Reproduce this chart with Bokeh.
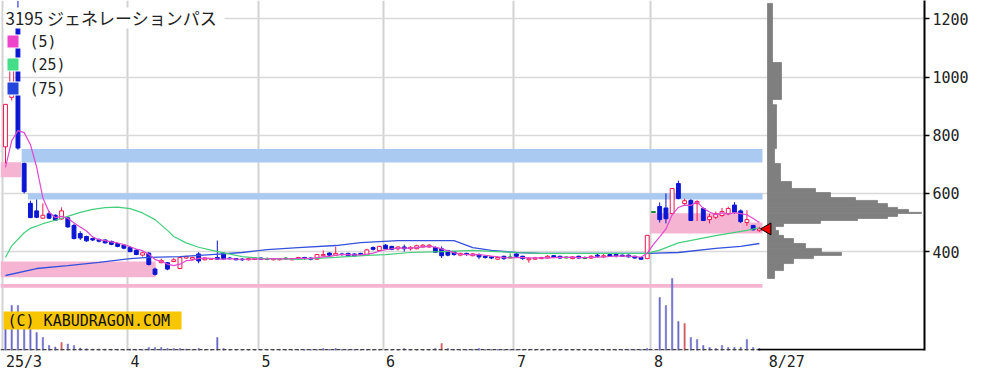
import math
import numpy as np
from bokeh.plotting import figure
from bokeh.models import Range1d, FixedTicker, Label, BoxAnnotation
from bokeh.embed import file_html
from bokeh.resources import INLINE

# ---------------- data ----------------
opens = [760, 930, 1230, 703, 566, 540, 515, 530, 525, 512,
         516, 490, 462, 452, 445, 442, 440, 435, 428, 422,
         414, 405, 388, 395, 340, 362, 362, 366, 342, 378,
         374, 392, 372, 374, 380, 395, 378, 376, 374, 372,
         373, 378, 375, 372, 372, 376, 372, 374, 380, 378,
         374, 386, 395, 388, 392, 394, 392, 394, 388, 414,
         404, 422, 418, 410, 416, 410, 410, 416, 416, 414,
         410, 404, 400, 388, 394, 386, 390, 384, 382, 374,
         384, 380, 392, 384, 372, 374, 376, 378, 386, 384,
         380, 376, 384, 378, 378, 388, 382, 390, 390, 388,
         388, 384, 380, 376, 536, 555, 550, 531, 634, 565,
         576, 565, 548, 510, 518, 524, 530, 560, 540, 500,
         490, 472]
highs = [906, 1056, 1262, 706, 575, 579, 566, 540, 528, 552,
         520, 495, 470, 455, 448, 445, 442, 438, 430, 425,
         418, 408, 400, 398, 345, 376, 364, 378, 382, 386,
         382, 398, 380, 378, 438, 398, 382, 378, 378, 380,
         380, 380, 380, 378, 377, 382, 378, 382, 382, 380,
         392, 404, 398, 417, 396, 396, 394, 396, 410, 418,
         420, 426, 420, 418, 424, 418, 424, 426, 426, 418,
         418, 406, 402, 396, 396, 395, 394, 386, 384, 384,
         386, 394, 394, 386, 380, 382, 382, 388, 388, 386,
         384, 384, 386, 384, 388, 392, 392, 392, 396, 390,
         390, 386, 382, 456, 536, 569, 600, 617, 644, 582,
         580, 577, 552, 530, 538, 550, 555, 570, 545, 542,
         492, 485]
lows = [703, 919, 750, 600, 515, 515, 512, 512, 505, 510,
        482, 442, 440, 434, 436, 432, 428, 422, 415, 408,
        398, 388, 383, 352, 318, 360, 336, 364, 340, 375,
        370, 360, 370, 372, 372, 372, 372, 370, 368, 370,
        371, 372, 370, 370, 370, 374, 370, 372, 372, 370,
        372, 384, 384, 386, 386, 384, 383, 388, 386, 404,
        402, 408, 405, 404, 400, 404, 408, 414, 414, 396,
        378, 384, 386, 384, 386, 384, 374, 376, 374, 372,
        372, 378, 380, 372, 362, 372, 374, 376, 378, 376,
        376, 374, 376, 374, 376, 380, 378, 382, 380, 382,
        380, 376, 372, 374, 536, 500, 497, 528, 580, 560,
        505, 505, 505, 497, 512, 520, 525, 530, 498, 488,
        472, 468]
closes = [906, 1056, 756, 606, 517, 518, 525, 515, 508, 540,
          485, 445, 447, 437, 440, 436, 430, 425, 418, 412,
          400, 390, 396, 356, 322, 370, 340, 372, 380, 383,
          380, 368, 378, 376, 374, 375, 376, 372, 372, 376,
          378, 374, 375, 376, 375, 376, 376, 380, 376, 374,
          390, 390, 388, 394, 390, 386, 385, 390, 406, 408,
          418, 410, 408, 416, 410, 415, 420, 422, 422, 398,
          386, 388, 390, 394, 390, 392, 382, 380, 378, 380,
          376, 380, 384, 376, 376, 378, 380, 384, 380, 378,
          380, 382, 378, 378, 384, 384, 386, 384, 386, 384,
          382, 378, 374, 456, 536, 510, 513, 617, 583, 575,
          507, 572, 507, 520, 530, 538, 548, 535, 503, 510,
          475, 478]
pre_closes = [600, 580, 641, 721]          # four closes before the first day (for the 5-day MA)

ma25_day = [0, 1, 3, 4, 6, 8, 10, 12, 14, 16, 18, 20, 22, 24, 26, 27, 29, 31, 33, 35,
            38, 41, 47, 53, 58, 61, 65, 70, 75, 78, 82, 86, 93, 101, 103, 105, 108,
            114, 119, 121]
ma25_val = [380, 420, 465, 480, 496, 508, 521, 535, 545, 551, 553, 548, 533, 510, 473,
            452, 430, 415, 405, 396, 383, 377, 373, 380, 387, 390, 397, 400, 404, 401,
            397, 394, 394, 394, 394, 405, 430, 455, 473, 482]
ma75_day = [0, 5, 10, 15, 20, 23, 28, 33, 38, 42, 47, 53, 57, 63, 72, 75, 78, 82, 86,
            103, 108, 114, 118, 121]
ma75_val = [318, 342, 352, 363, 376, 380, 383, 390, 397, 407, 414, 421, 431, 438, 438,
            414, 404, 397, 394, 394, 397, 411, 418, 428]

volume = [1520, 1800, 1800, 1440, 1200, 720, 520, 200, 140, 320,
          260, 200, 100, 72, 60, 60, 60, 48, 48, 40,
          60, 40, 40, 120, 120, 120, 80, 80, 80, 60,
          40, 80, 40, 40, 520, 80, 40, 40, 40, 40,
          40, 40, 40, 40, 40, 40, 40, 40, 40, 40,
          40, 80, 40, 80, 40, 40, 40, 40, 40, 40,
          40, 40, 40, 40, 80, 40, 40, 40, 40, 80,
          280, 80, 40, 40, 40, 40, 80, 40, 40, 40,
          40, 40, 40, 40, 40, 40, 40, 40, 40, 40,
          40, 40, 40, 40, 40, 40, 40, 40, 40, 40,
          40, 40, 40, 80, 0, 2120, 1800, 2880, 1160, 1080,
          520, 440, 200, 120, 80, 200, 120, 120, 120, 440,
          120, 80]
vol_red_days = [9, 70, 109]

month_first_day = [0, 20, 41, 61, 82, 104]
month_labels = ["25/3", "4", "5", "6", "7", "8"]
last_label = "8/27"
price_ticks = [400, 600, 800, 1000, 1200]

# unfilled price gaps: low, high, first day, last day, kind
gap_lo = [656, 706, 579, 312, 276, 462, 462]
gap_hi = [707, 753, 601, 366, 289, 532, 500]
gap_from = [-0.8, 2.6, 3.6, -0.8, -0.8, 103.5, 118.0]
gap_to = [2.5, 121.5, 121.5, 24.1, 121.5, 118.0, 121.5]
gap_kind = ["up", "down", "down", "up", "up", "up", "up"]

# volume-at-price profile
prof_lo = [308, 335, 359, 376, 387, 397, 411, 428, 445, 456, 473, 486, 497, 507, 514, 521,
           531, 535, 545, 552, 565, 576, 586, 603, 617, 641, 703, 754, 905, 923, 1050]
prof_hi = [335, 359, 376, 387, 397, 411, 428, 445, 456, 473, 486, 497, 507, 514, 521, 531,
           535, 545, 552, 565, 576, 586, 603, 617, 641, 703, 754, 905, 923, 1050, 1253]
prof_vol = [140, 320, 520, 920, 1480, 1080, 760, 520, 320, 220, 160, 320, 1060, 1800, 2400,
            2600, 3080, 2820, 2600, 2400, 2200, 1760, 1260, 960, 480, 260, 140, 180, 100, 280, 100]

# ---------------- layout ----------------
W, H = 985, 385
FW, FH = 924, 350
X0, X1 = -0.8, 147.5
Y0, Y1 = 60.3, 1262.9
PX_PER_DAY = FW / (X1 - X0)
CHAR_W = 9.03     # DejaVu Sans Mono at 15px


def px_x(px):
    return X0 + px / PX_PER_DAY


def px_y(py):
    return Y1 - py * (Y1 - Y0) / FH


p = figure(width=W, height=H, x_range=Range1d(X0, X1), y_range=Range1d(Y0, Y1),
           output_backend="svg", toolbar_location=None, y_axis_location="right",
           min_border_left=0, min_border_top=0, min_border_right=W - FW,
           min_border_bottom=H - FH, outline_line_color=None,
           background_fill_color="white", border_fill_color="white")

ax = p.yaxis[0]
ax.ticker = FixedTicker(ticks=price_ticks)
ax.major_label_text_font = "DejaVu Sans Mono"
ax.major_label_text_font_size = "15px"
ax.major_label_text_color = "#222222"
ax.axis_line_color = "black"
ax.axis_line_width = 2
ax.major_tick_in = 0
ax.major_tick_out = 5
ax.major_tick_line_width = 1.5
ax.minor_tick_line_color = None
ax.major_label_standoff = 3

# bottom date labels: left-aligned just right of each month line (tick = label centre)
lab_left = [d + 0.08 for d in month_first_day] + [len(closes) + 0.5]
lab_text = month_labels + [last_label]
tick_pos = [round(l + len(t) * CHAR_W / 2 / PX_PER_DAY, 3) for l, t in zip(lab_left, lab_text)]
bx = p.xaxis[0]
bx.ticker = FixedTicker(ticks=tick_pos)
bx.major_label_overrides = {tp: t for tp, t in zip(tick_pos, lab_text)}
bx.axis_line_color = None
bx.major_tick_line_color = None
bx.major_tick_in = 0
bx.major_tick_out = 0
bx.minor_tick_line_color = None
bx.major_label_standoff = 2
bx.major_label_text_font = "DejaVu Sans Mono"
bx.major_label_text_font_size = "15px"
bx.major_label_text_color = "#222222"

p.ygrid.ticker = FixedTicker(ticks=price_ticks)
p.ygrid.grid_line_color = "#d9d9d9"
p.ygrid.grid_line_width = 1.5
p.xgrid.ticker = FixedTicker(ticks=[d - 0.4 for d in month_first_day])
p.xgrid.grid_line_color = "#d2d2d2"
p.xgrid.grid_line_width = 2

# gap zones
gap_col = {"up": "#f6b4d3", "down": "#abcaf2"}
p.quad(left=gap_from, right=gap_to, bottom=gap_lo, top=gap_hi,
       fill_color=[gap_col[k] for k in gap_kind], line_color=None)

# volume
VOL_MAX = FH * 40
p.extra_y_ranges = {"vol": Range1d(0, VOL_MAX)}
days = list(range(len(closes)))
vcol = ["#d06262" if d in vol_red_days else "#6b6bc9" for d in days]
p.vbar(x=days, top=volume, bottom=0, width=0.22, y_range_name="vol",
       fill_color=vcol, line_color=vcol, line_width=0.5)
base_y = px_y(349.2)
p.line([X0, 120.7], [base_y, base_y], line_color="#444444", line_width=1.5, line_dash="4 2")
p.line([120.7, X1], [base_y, base_y], line_color="black", line_width=2)

# candles
up_c, dn_c, dj_c = "#f01850", "#0b16d2", "#138a2e"
kind = []
for o, c in zip(opens, closes):
    kind.append("dj" if o == c else ("up" if c > o else "dn"))
line_cols = [{"up": up_c, "dn": dn_c, "dj": dj_c}[k] for k in kind]
fill_cols = [{"up": "white", "dn": dn_c, "dj": dj_c}[k] for k in kind]
btop = [max(o, c) + (1.5 if o == c else 0) for o, c in zip(opens, closes)]
bbot = [min(o, c) - (1.5 if o == c else 0) for o, c in zip(opens, closes)]
p.segment(x0=days, y0=lows, x1=days, y1=highs, line_color=line_cols, line_width=1)
p.vbar(x=days, top=btop, bottom=bbot, width=0.62, fill_color=fill_cols,
       line_color=line_cols, line_width=1)

# moving averages
ext = np.array(pre_closes + closes, dtype=float)
ma5 = [ext[i:i + 5].mean() for i in range(len(closes))]
p.line(ma75_day, ma75_val, line_color="#3452dc", line_width=1.3)
p.line(ma25_day, ma25_val, line_color="#45cf7c", line_width=1.2)
p.line(days, ma5, line_color="#e048cf", line_width=1.2)

# volume profile
PROF_BASE = 122.3
PROF_K = 20 * PX_PER_DAY
p.quad(left=[PROF_BASE] * len(prof_vol), right=[PROF_BASE + v / PROF_K for v in prof_vol],
       bottom=prof_lo, top=prof_hi, fill_color="#7f7f7f", line_color="#7f7f7f",
       line_width=0.8)

# last price marker
p.scatter(x=[PROF_BASE], y=[closes[-1]], marker="triangle", size=12, angle=math.pi / 2,
          fill_color="#ee0000", line_color="black", line_width=1)

# title / legend
p.add_layout(BoxAnnotation(left=px_x(3), right=px_x(224), top=px_y(7), bottom=px_y(28),
                           fill_color="white", fill_alpha=1, line_alpha=0))
p.add_layout(Label(x=px_x(5), y=px_y(17), text="3195 ジェネレーションパス",
                   text_font="Noto Sans CJK JP", text_font_size="17px",
                   text_baseline="middle", text_align="left", text_color="#222222"))
leg = [("(5)", "#ee44cc", 41), ("(25)", "#44dd88", 64), ("(75)", "#2446dc", 88)]
for t, col, yc in leg:
    p.add_layout(BoxAnnotation(left=px_x(4), right=px_x(60), top=px_y(yc - 7),
                               bottom=px_y(yc + 7), fill_color="white", fill_alpha=1,
                               line_alpha=0))
    p.add_layout(BoxAnnotation(left=px_x(7), right=px_x(18), top=px_y(yc - 6),
                               bottom=px_y(yc + 6), fill_color=col, fill_alpha=1,
                               line_alpha=0))
    p.add_layout(Label(x=px_x(29), y=px_y(yc), text=t, text_font="DejaVu Sans Mono",
                       text_font_size="15px", text_baseline="middle", text_align="left",
                       text_color="#222222"))

# copyright badge
p.add_layout(BoxAnnotation(left=px_x(3), right=px_x(181), top=px_y(311), bottom=px_y(329),
                           fill_color="#f7c600", fill_alpha=1, line_alpha=0))
p.add_layout(Label(x=px_x(7), y=px_y(320), text="(C) KABUDRAGON.COM",
                   text_font="DejaVu Sans Mono", text_font_size="15px",
                   text_baseline="middle", text_align="left", text_color="#111111"))

open("out.html", "w").write(file_html(p, INLINE))
